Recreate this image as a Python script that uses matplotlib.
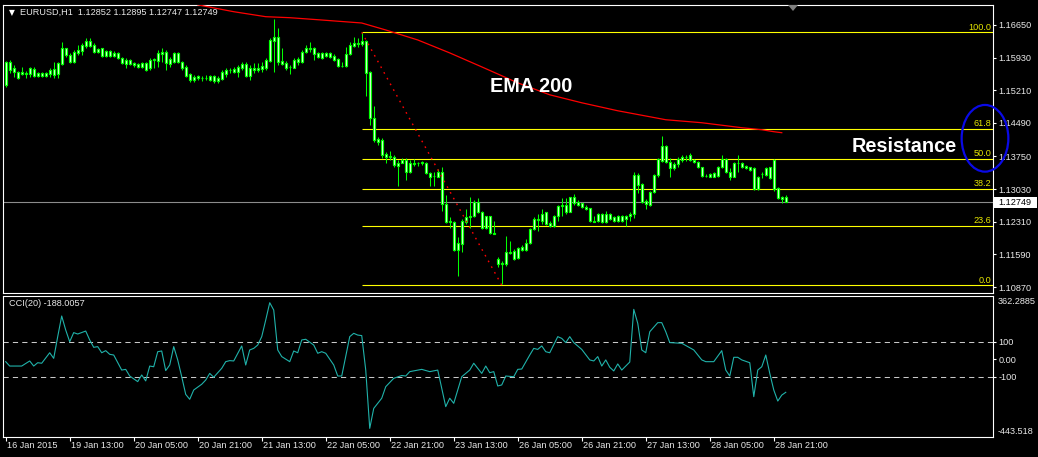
import matplotlib
matplotlib.use("Agg")
import matplotlib.pyplot as plt
from matplotlib import transforms
from matplotlib.patches import Ellipse, Polygon, Rectangle

W, H, DPI = 1038, 457, 100
plt.rcParams['font.family'] = ['Liberation Sans', 'DejaVu Sans']

# ---------------- data (EURUSD H1) ----------------
opens = [1.15330,1.15836,1.15704,1.15616,1.15572,1.15594,1.15572,1.15682,1.15528,1.15594,
         1.15528,1.15572,1.15550,1.15572,1.15792,1.16144,1.15990,1.15836,1.16034,1.16078,
         1.16188,1.16298,1.16210,1.16056,1.16144,1.15968,1.16078,1.15968,1.16034,1.15924,
         1.15880,1.15792,1.15814,1.15792,1.15726,1.15814,1.15704,1.15880,1.15858,1.16012,
         1.16056,1.15792,1.15836,1.16034,1.15836,1.15726,1.15572,1.15440,1.15528,1.15484,
         1.15473,1.15528,1.15418,1.15484,1.15462,1.15572,1.15660,1.15616,1.15616,1.15704,
         1.15792,1.15528,1.15704,1.15660,1.15682,1.15704,1.15858,1.16298,1.16386,1.15858,
         1.15814,1.15726,1.15704,1.15836,1.15836,1.16056,1.16122,1.16144,1.16034,1.15924,
         1.16034,1.15946,1.15968,1.15902,1.15748,1.15748,1.16012,1.16188,1.16232,1.16232,
         1.16298,1.15616,1.14604,1.14142,1.14120,1.13812,1.13768,1.13746,1.13548,1.13614,
         1.13680,1.13416,1.13592,1.13614,1.13614,1.13614,1.13394,1.13328,1.13306,1.13416,
         1.12712,1.12316,1.12294,1.11678,1.11810,1.12294,1.12404,1.12426,1.12756,1.12514,
         1.12162,1.12426,1.12052,1.11480,1.11370,1.11370,1.11634,1.11656,1.11502,1.11678,
         1.11678,1.11832,1.12140,1.12360,1.12316,1.12514,1.12272,1.12206,1.12426,1.12668,
         1.12690,1.12514,1.12866,1.12756,1.12734,1.12646,1.12602,1.12316,1.12316,1.12470,
         1.12294,1.12470,1.12404,1.12316,1.12426,1.12360,1.12426,1.12470,1.13350,1.13152,
         1.12778,1.12690,1.12976,1.13350,1.13658,1.13988,1.13636,1.13504,1.13592,1.13680,
         1.13746,1.13680,1.13680,1.13636,1.13526,1.13328,1.13306,1.13394,1.13328,1.13526,
         1.13702,1.13416,1.13306,1.13614,1.13614,1.13548,1.13526,1.13504,1.13042,1.13372,
         1.13350,1.13526,1.13680,1.13064,1.12866,1.12852]
highs = [1.15858,1.15880,1.15770,1.15638,1.15726,1.15638,1.15726,1.15726,1.15616,1.15616,
         1.15616,1.15704,1.15836,1.15836,1.16276,1.16144,1.16034,1.16100,1.16210,1.16254,
         1.16364,1.16364,1.16254,1.16144,1.16144,1.16100,1.16100,1.16078,1.16056,1.15946,
         1.15924,1.15902,1.15836,1.15814,1.15836,1.15836,1.15924,1.15924,1.16100,1.16144,
         1.16100,1.15946,1.16056,1.16056,1.15858,1.15770,1.15594,1.15550,1.15550,1.15528,
         1.15550,1.15550,1.15550,1.15528,1.15660,1.15704,1.15704,1.15726,1.15770,1.15836,
         1.15836,1.15770,1.15814,1.15814,1.15836,1.15924,1.16364,1.16782,1.16584,1.16144,
         1.15858,1.15770,1.15924,1.15946,1.16100,1.16210,1.16276,1.16166,1.16056,1.16056,
         1.16056,1.16056,1.16012,1.15924,1.15836,1.16166,1.16276,1.16386,1.16364,1.16490,
         1.16320,1.15638,1.14868,1.14186,1.14164,1.13856,1.13878,1.13790,1.13680,1.13724,
         1.13724,1.13680,1.13702,1.13636,1.13658,1.13636,1.13416,1.13416,1.13482,1.13526,
         1.12910,1.12404,1.12316,1.11964,1.12360,1.12580,1.12866,1.12800,1.12844,1.12536,
         1.12440,1.12440,1.12316,1.11524,1.11436,1.11986,1.11876,1.11700,1.11744,1.11788,
         1.11920,1.12162,1.12404,1.12470,1.12580,1.12514,1.12316,1.12448,1.12690,1.12844,
         1.12844,1.12866,1.12932,1.12800,1.12734,1.12690,1.12624,1.12426,1.12492,1.12492,
         1.12536,1.12492,1.12426,1.12448,1.12448,1.12448,1.12514,1.13416,1.13394,1.13174,
         1.12822,1.12998,1.13372,1.13724,1.14208,1.14010,1.13724,1.13636,1.13746,1.13790,
         1.13790,1.13834,1.13702,1.13658,1.13526,1.13372,1.13394,1.13416,1.13548,1.13790,
         1.13724,1.13504,1.13625,1.13790,1.13636,1.13570,1.13526,1.13526,1.13328,1.13416,
         1.13526,1.13526,1.13702,1.13086,1.12888,1.12895]
lows = [1.15286,1.15594,1.15506,1.15462,1.15550,1.15484,1.15506,1.15506,1.15506,1.15506,
        1.15506,1.15506,1.15484,1.15484,1.15770,1.15946,1.15814,1.15814,1.15990,1.15990,
        1.16144,1.16166,1.16034,1.16034,1.15946,1.15946,1.15946,1.15946,1.15902,1.15792,
        1.15704,1.15770,1.15726,1.15704,1.15704,1.15638,1.15660,1.15704,1.15726,1.15836,
        1.15660,1.15726,1.15814,1.15814,1.15660,1.15506,1.15396,1.15396,1.15440,1.15418,
        1.15440,1.15418,1.15374,1.15374,1.15440,1.15506,1.15594,1.15594,1.15506,1.15660,
        1.15506,1.15440,1.15594,1.15616,1.15616,1.15660,1.15836,1.15616,1.15770,1.15770,
        1.15660,1.15572,1.15704,1.15770,1.15814,1.16034,1.16056,1.15880,1.15924,1.15902,
        1.15946,1.15924,1.15858,1.15726,1.15726,1.15726,1.15990,1.16166,1.16166,1.16188,
        1.15073,1.14450,1.14076,1.14010,1.13724,1.13614,1.13680,1.13526,1.13108,1.13614,
        1.13240,1.13394,1.13548,1.13548,1.13570,1.13372,1.13108,1.13108,1.13290,1.12536,
        1.12280,1.12162,1.11656,1.11106,1.11634,1.12250,1.12162,1.12404,1.12500,1.12140,
        1.12140,1.12030,1.12030,1.11304,1.10930,1.11326,1.11590,1.11458,1.11480,1.11656,
        1.11656,1.11810,1.12118,1.12096,1.12250,1.12228,1.12184,1.12184,1.12316,1.12426,
        1.12470,1.12514,1.12690,1.12668,1.12624,1.12558,1.12300,1.12294,1.12294,1.12290,
        1.12290,1.12338,1.12300,1.12300,1.12294,1.12206,1.12316,1.12382,1.12954,1.12734,
        1.12580,1.12668,1.12954,1.13306,1.13636,1.13614,1.13306,1.13460,1.13526,1.13636,
        1.13658,1.13658,1.13614,1.13504,1.13306,1.13306,1.13306,1.13300,1.13306,1.13504,
        1.13394,1.13240,1.13306,1.13416,1.13504,1.13482,1.13438,1.13020,1.13020,1.13284,
        1.13328,1.13262,1.12998,1.12822,1.12734,1.12747]
closes = [1.15836,1.15660,1.15616,1.15484,1.15616,1.15572,1.15704,1.15528,1.15594,1.15528,
          1.15594,1.15660,1.15682,1.15814,1.16144,1.15990,1.15836,1.16056,1.16100,1.16210,
          1.16298,1.16188,1.16056,1.16122,1.15968,1.16078,1.15968,1.16034,1.15924,1.15814,
          1.15792,1.15880,1.15770,1.15726,1.15814,1.15660,1.15880,1.15902,1.16034,1.16056,
          1.15814,1.15902,1.16034,1.15836,1.15704,1.15528,1.15440,1.15506,1.15484,1.15473,
          1.15484,1.15440,1.15528,1.15418,1.15616,1.15660,1.15650,1.15682,1.15726,1.15792,
          1.15528,1.15704,1.15660,1.15704,1.15748,1.15880,1.16320,1.16386,1.15836,1.15792,
          1.15704,1.15715,1.15880,1.15902,1.16056,1.16144,1.16133,1.16012,1.15946,1.16034,
          1.15968,1.16034,1.15880,1.15748,1.15740,1.16012,1.16210,1.16254,1.16254,1.16298,
          1.15594,1.14604,1.14120,1.14076,1.13790,1.13746,1.13746,1.13570,1.13614,1.13680,
          1.13416,1.13614,1.13603,1.13603,1.13625,1.13394,1.13306,1.13317,1.13416,1.12712,
          1.12294,1.12294,1.11678,1.11832,1.12316,1.12404,1.12426,1.12756,1.12514,1.12162,
          1.12426,1.12052,1.12041,1.11370,1.11392,1.11634,1.11623,1.11480,1.11722,1.11744,
          1.11832,1.12140,1.12360,1.12338,1.12470,1.12250,1.12206,1.12426,1.12668,1.12690,
          1.12514,1.12866,1.12734,1.12690,1.12646,1.12580,1.12316,1.12305,1.12470,1.12294,
          1.12470,1.12360,1.12316,1.12426,1.12316,1.12426,1.12470,1.13350,1.13130,1.12756,
          1.12712,1.12976,1.13350,1.13702,1.13988,1.13636,1.13504,1.13592,1.13702,1.13746,
          1.13735,1.13790,1.13636,1.13526,1.13328,1.13317,1.13372,1.13306,1.13526,1.13702,
          1.13416,1.13306,1.13614,1.13603,1.13526,1.13504,1.13460,1.13042,1.13306,1.13361,
          1.13504,1.13284,1.13042,1.12844,1.12822,1.12749]

ema_bars = [48, 57, 65, 71, 79, 89, 95, 103, 111, 119, 128, 136, 144, 153, 161, 165, 174, 178, 184, 189, 192, 194]
ema_vals = [1.17095, 1.16943, 1.16833, 1.16811, 1.16760, 1.16694, 1.16540, 1.16320, 1.16034, 1.15726,
            1.15374, 1.15110, 1.14934, 1.14758, 1.14626, 1.14560, 1.14494, 1.14450, 1.14384, 1.14340,
            1.14296, 1.14274]

fib_high = 1.16490
fib_low = 1.10910
fib_start_bar = 89
fib_end_bar = 124
fib_levels = [0.0, 23.6, 38.2, 50.0, 61.8, 100.0]
fib_labels = ['0.0', '23.6', '38.2', '50.0', '61.8', '100.0']

last_price = 1.12749
header = 'EURUSD,H1  1.12852 1.12895 1.12747 1.12749'

price_ticks = [1.16650, 1.15930, 1.15210, 1.14490, 1.13750, 1.13030, 1.12310, 1.11590, 1.10870]
price_tick_labels = ['1.16650', '1.15930', '1.15210', '1.14490', '1.13750', '1.13030', '1.12310', '1.11590', '1.10870']

cci_bars = [0,1,4,6,7,8,9,11,12,13,14,15,16,17,18,20,21,22,23,24,25,26,27,29,30,31,33,34,35,36,
            37,38,39,40,41,42,43,44,45,46,47,49,50,51,52,54,55,56,57,59,60,61,62,63,64,65,66,67,68,69,
            71,72,73,74,75,77,78,79,80,82,83,84,86,87,88,89,90,91,92,94,95,97,99,100,101,104,106,108,110,111,
            112,114,116,117,119,120,121,122,123,124,125,127,128,129,131,132,133,134,135,136,138,139,140,141,
            142,144,146,147,148,149,150,151,152,153,154,156,157,158,159,160,161,163,164,165,166,169,172,174,
            175,177,179,180,181,182,183,184,186,187,188,189,190,191,192,193,194,195]
cci_vals = [-13,-38,-38,-9,-38,-19,-22,38,6,130,248,168,101,153,145,162,111,69,73,38,50,29,25,-61,-57,-95,-127,-89,-123,-38,
            -42,44,48,-64,-32,73,-3,-99,-200,-228,-175,-142,-118,-80,-102,-51,-13,-7,-9,77,-32,54,63,82,130,225,324,282,54,16,
            -13,48,38,111,115,82,35,44,35,-32,-95,-95,130,149,139,136,-61,-394,-280,-222,-156,-108,-92,-95,-70,-57,-70,-61,-270,-222,
            -251,-99,-61,-22,-80,-38,-76,-70,-152,-146,-95,-99,-57,-55,25,63,57,77,44,38,130,120,96,130,
            96,57,-3,-9,16,-38,-3,-45,-66,-26,-61,-15,286,206,54,38,158,210,210,158,96,92,54,-3,
            -13,-13,50,-61,-95,12,12,-3,-19,-213,-61,-42,25,-80,-175,-238,-204,-188.0057]
cci_max = 362.2885
cci_min = -443.518
cci_ticks = [100, 0, -100]
cci_tick_labels = ['100', '0.00', '-100']
cci_title = 'CCI(20) -188.0057'

time_label_bars = [0, 16, 32, 48, 64, 80, 96, 112, 128, 144, 160, 176, 192]
time_labels = ['16 Jan 2015', '19 Jan 13:00', '20 Jan 05:00', '20 Jan 21:00', '21 Jan 13:00',
               '22 Jan 05:00', '22 Jan 21:00', '23 Jan 13:00', '26 Jan 05:00', '26 Jan 21:00',
               '27 Jan 13:00', '28 Jan 05:00', '28 Jan 21:00']

# ---------------- layout helpers ----------------
def fx(px):
    return px / W

def fy(py):
    return 1 - py / H

fig = plt.figure(figsize=(W / DPI, H / DPI), dpi=DPI, facecolor='black')
ax = fig.add_axes([fx(3), fy(293), fx(993) - fx(3), fy(5) - fy(293)])
ax2 = fig.add_axes([fx(3), fy(437), fx(993) - fx(3), fy(296) - fy(437)])

XMIN, XMAX = -0.675, 246.8
for a in (ax, ax2):
    a.set_facecolor('black')
    for s in a.spines.values():
        s.set_color('white')
        s.set_linewidth(0.8)
    a.set_xlim(XMIN, XMAX)
ax.set_ylim(1.10738, 1.17091)
ax2.set_ylim(cci_min, cci_max)

SMALL = 6.6
TXT = '#E8E8E8'
LIME = '#00FF00'

# ---------------- price panel ----------------
n = len(opens)
idx = list(range(n))
ax.vlines(idx, lows, highs, color=LIME, lw=0.75, zorder=3)
bottoms = [min(o, c) for o, c in zip(opens, closes)]
heights = [max(abs(c - o), 0.00003) for o, c in zip(opens, closes)]
ax.bar(idx, heights, bottom=bottoms, width=0.5, color='#F4FFF4', edgecolor=LIME,
       linewidth=0.85, zorder=4)

ax.plot(ema_bars, ema_vals, color='#FF0000', lw=0.9, zorder=5)

rng = fib_high - fib_low
for lev, lab in zip(fib_levels, fib_labels):
    p = fib_low + rng * lev / 100.0
    ax.hlines(p, fib_start_bar, XMAX, color='#FFFF00', lw=0.8, zorder=2)
    ax.text(246.4, p + 0.00012, lab, ha='right', va='bottom', color='#E6E600', fontsize=SMALL, zorder=6)
ax.plot([fib_start_bar, fib_end_bar], [fib_high, fib_low], color='#FF0000', lw=1.0,
        ls=(0, (1.2, 3.5)), zorder=5)

ax.axhline(last_price, color='#8C8C8C', lw=0.8, zorder=1)

ax.set_xticks([])
ax.yaxis.tick_right()
ax.set_yticks(price_ticks)
ax.set_yticklabels(price_tick_labels)
ax.tick_params(axis='y', colors='white', length=2.5, width=0.8, pad=1.5, labelsize=SMALL,
               labelcolor=TXT)

# current price box
fig.add_artist(Rectangle((fx(994), fy(208)), 43 / W, 11 / H, transform=fig.transFigure,
                         facecolor='white', edgecolor='none'))
fig.text(fx(998), fy(202.5), '1.12749', color='black', fontsize=SMALL, ha='left', va='center')

# header
fig.text(fx(9), fy(12.7), '\u25BC', color='white', fontsize=5.5, ha='left', va='center',
         family=['DejaVu Sans'])
fig.text(fx(20.5), fy(12.7), header, color=TXT, fontsize=SMALL, ha='left', va='center')

# shift marker
fig.add_artist(Polygon([(fx(788), fy(5)), (fx(798), fy(5)), (fx(793), fy(11))], closed=True,
                       transform=fig.transFigure, facecolor='#808080', edgecolor='none'))

# annotations
fig.text(fx(490), fy(92), 'EMA 200', color='white', fontsize=14.3, fontweight='bold',
         ha='left', va='baseline')
fig.text(fx(852), fy(152), 'Resistance', color='white', fontsize=14.3, fontweight='bold',
         ha='left', va='baseline')
fig.add_artist(Ellipse((fx(985), fy(138.3)), 46.7 / W, 66.7 / H, transform=fig.transFigure,
                       fill=False, edgecolor='#0A0AE6', lw=1.6))

# ---------------- CCI panel ----------------
ax2.plot(cci_bars, cci_vals, color='#20B2AA', lw=0.8, zorder=3)
for lv in (100, -100):
    ax2.axhline(lv, color='#C8C8C8', lw=0.75, ls=(0, (5, 4)), zorder=2)
ax2.yaxis.tick_right()
ax2.set_yticks(cci_ticks)
ax2.set_yticklabels(cci_tick_labels)
ax2.tick_params(axis='y', colors='white', length=2.5, width=0.8, pad=1.5, labelsize=SMALL,
                labelcolor=TXT)
fig.text(fx(998), fy(297), f'{cci_max:.4f}', color=TXT, fontsize=SMALL, ha='left', va='top')
fig.text(fx(998), fy(436), f'{cci_min:.3f}', color=TXT, fontsize=SMALL, ha='left', va='bottom')
fig.text(fx(9), fy(304), cci_title, color=TXT, fontsize=SMALL, ha='left', va='center')

ax2.set_xticks(time_label_bars)
ax2.tick_params(axis='x', colors='white', length=3, width=0.8, direction='out', labelbottom=False)
tx = transforms.blended_transform_factory(ax2.transData, fig.transFigure)
for b, lab in zip(time_label_bars, time_labels):
    ax2.text(b + 0.4, fy(446), lab, transform=tx, color=TXT, fontsize=SMALL, ha='left',
             va='center', clip_on=False)

fig.savefig('out.png', dpi=DPI, facecolor='black')
